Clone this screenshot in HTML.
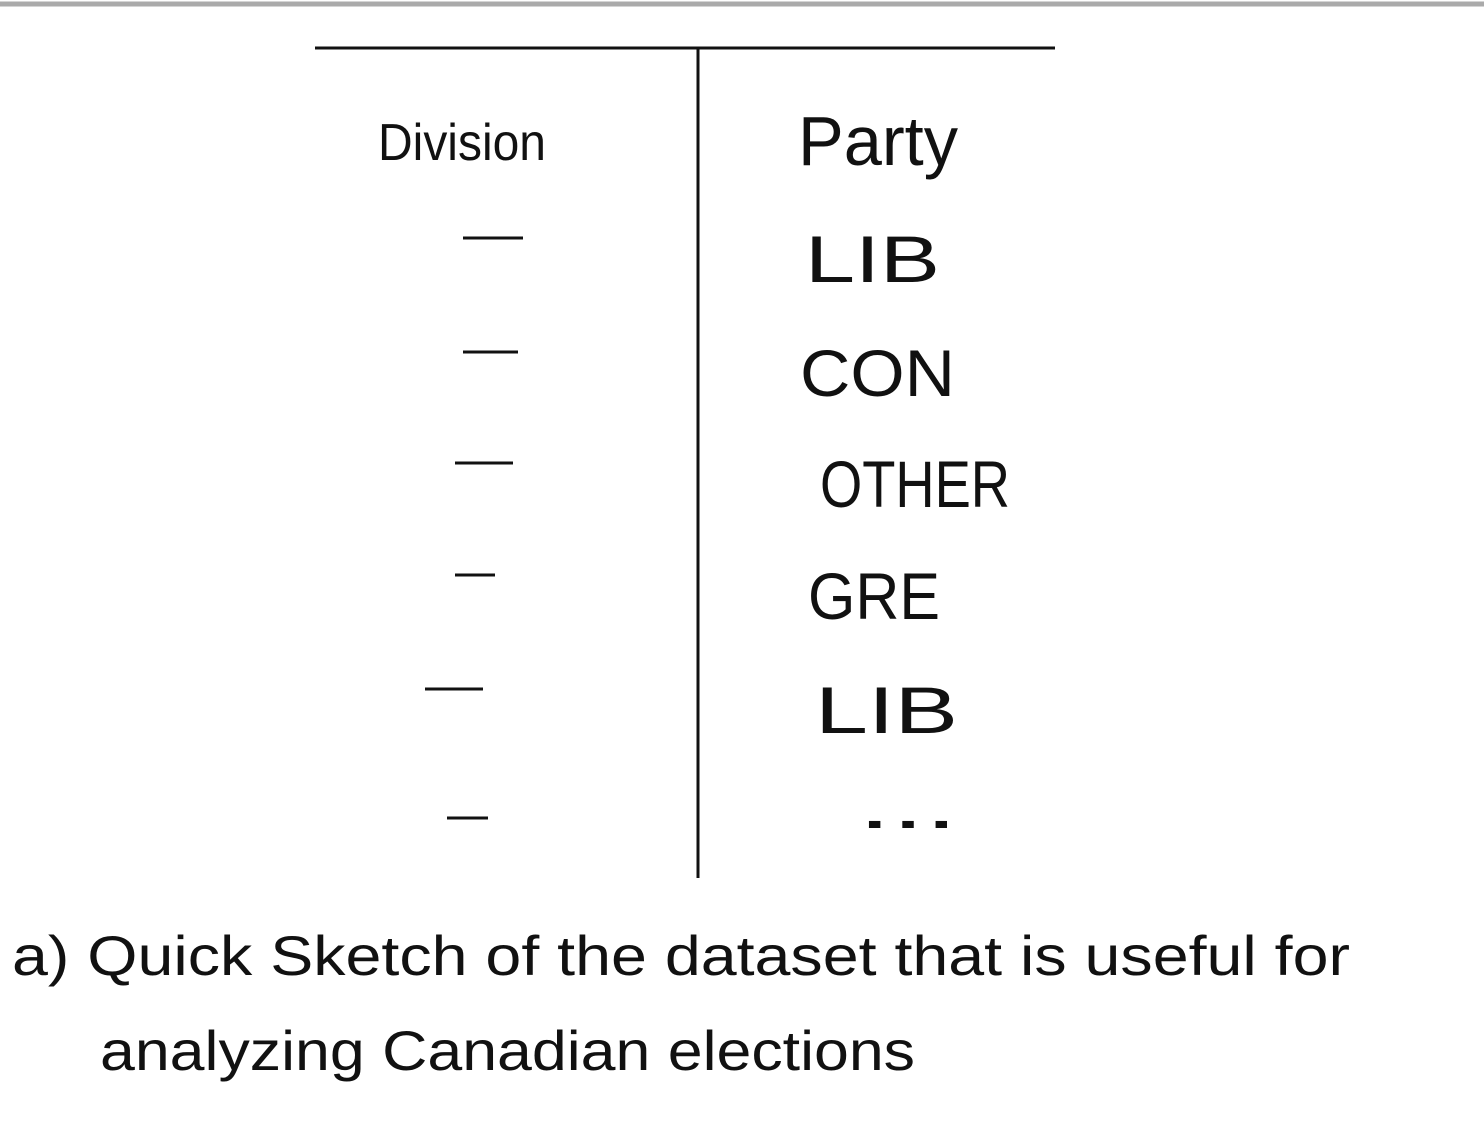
<!DOCTYPE html>
<html>
<head>
<meta charset="utf-8">
<style>
  html, body { margin: 0; padding: 0; background: #fff; }
  body { width: 1484px; height: 1138px; overflow: hidden; position: relative; }
  svg { position: absolute; left: 0; top: 0; }
  text { font-family: "Liberation Sans", "DejaVu Sans", sans-serif; fill: #111; }
</style>
</head>
<body>
<svg id="sketch" width="1484" height="1138" viewBox="0 0 1484 1138">
  <line x1="0" y1="4" x2="1484" y2="4" stroke="#aaa" stroke-width="5"/>
  <line x1="315" y1="48" x2="1055" y2="48" stroke="#111" stroke-width="3"/>
  <line x1="698" y1="48" x2="698" y2="878" stroke="#111" stroke-width="3"/>
  <text x="378" y="160" font-size="52" textLength="168" lengthAdjust="spacingAndGlyphs">Division</text>
  <text x="798" y="165" font-size="70" textLength="160" lengthAdjust="spacingAndGlyphs">Party</text>
  <g id="rows"></g>
  <text x="12" y="975" font-size="56" textLength="1338" lengthAdjust="spacingAndGlyphs">a) Quick Sketch of the dataset that is useful for</text>
  <text x="100" y="1070" font-size="56" textLength="815" lengthAdjust="spacingAndGlyphs">analyzing Canadian elections</text>
</svg>
<script>
const parties = ["LIB", "CON", "OTHER", "GRE", "LIB", "..."];
const rowY = [238, 352, 463, 575, 689, 818];
const g = document.getElementById('rows');
const NS = 'http://www.w3.org/2000/svg';
const dashX = [[463,523],[463,518],[455,513],[455,495],[425,483],[447,488]];
const partyX = [805, 800, 820, 808, 815, 858];
const partyW = [135, 155, 190, 132, 143, 100];
parties.forEach((p, i) => {
  const y = rowY[i];
  const l = document.createElementNS(NS, 'line');
  l.setAttribute('x1', dashX[i][0]); l.setAttribute('x2', dashX[i][1]);
  l.setAttribute('y1', y); l.setAttribute('y2', y);
  l.setAttribute('stroke', '#111'); l.setAttribute('stroke-width', '3');
  
  
  g.appendChild(l);
  const t = document.createElementNS(NS, 'text');
  t.setAttribute('x', partyX[i]);
  t.setAttribute('y', p === '...' ? y + 10 : y + 44);
  t.setAttribute('font-size', '66');
  t.setAttribute('textLength', partyW[i]);
  t.setAttribute('lengthAdjust', 'spacingAndGlyphs');
  t.textContent = p;
  
  
  g.appendChild(t);
});
</script>
</body>
</html>
